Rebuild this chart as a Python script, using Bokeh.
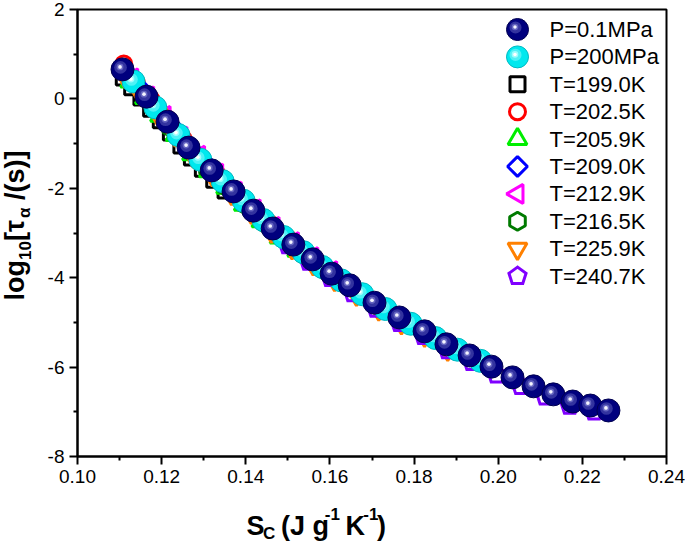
import numpy as np
from bokeh.plotting import figure
from bokeh.layouts import row, column
from bokeh.models import Range1d, FixedTicker, PrintfTickFormatter, ColumnDataSource
from bokeh.transform import dodge
from bokeh.core.properties import value
from bokeh.embed import file_html
from bokeh.resources import INLINE

# ---------------- data ----------------
sc_p01 = [0.1107, 0.1164, 0.1214, 0.1264, 0.1319, 0.1371, 0.1418, 0.1464, 0.1513, 0.1559,
          0.1604, 0.1647, 0.1706, 0.1765, 0.1825, 0.1877, 0.1932, 0.1984, 0.2034, 0.2084,
          0.2131, 0.2177, 0.2219, 0.2262]
lt_p01 = [0.66, 0.05, -0.51, -1.09, -1.60, -2.07, -2.50, -2.90, -3.26, -3.59,
          -3.91, -4.17, -4.56, -4.89, -5.20, -5.49, -5.74, -5.99, -6.23, -6.43,
          -6.61, -6.77, -6.86, -6.97]

sc_p200 = [0.1133, 0.1185, 0.1240, 0.1292, 0.1345, 0.1395, 0.1442, 0.1490, 0.1537, 0.1582,
           0.1627, 0.1677, 0.1732, 0.1792, 0.1851, 0.1903, 0.1958]
lt_p200 = [0.39, -0.19, -0.81, -1.36, -1.84, -2.28, -2.71, -3.09, -3.43, -3.76,
           -4.06, -4.37, -4.70, -5.03, -5.35, -5.61, -5.86]

sc_t1990 = [0.1110, 0.1130, 0.1152, 0.1175, 0.1198, 0.1222, 0.1247, 0.1272, 0.1298, 0.1325, 0.1352]
lt_t1990 = [0.48, 0.26, 0.03, -0.22, -0.48, -0.75, -1.04, -1.31, -1.56, -1.81, -2.05]

sc_t2025 = [0.1110, 0.1140, 0.1175, 0.1212, 0.1250, 0.1290, 0.1330, 0.1372, 0.1415, 0.1458, 0.1500]
lt_t2025 = [0.78, 0.36, -0.02, -0.44, -0.88, -1.29, -1.66, -2.04, -2.43, -2.80, -3.12]

sc_t2059 = [0.1125, 0.1160, 0.1196, 0.1233, 0.1272, 0.1312, 0.1353, 0.1395, 0.1437, 0.1480, 0.1522]
lt_t2059 = [0.39, 0.02, -0.38, -0.81, -1.24, -1.62, -1.99, -2.37, -2.74, -3.10, -3.40]

sc_t2090 = [0.1115, 0.1150, 0.1187, 0.1226, 0.1266, 0.1307, 0.1349, 0.1392, 0.1436, 0.1480, 0.1525]
lt_t2090 = [0.60, 0.22, -0.19, -0.63, -1.09, -1.47, -1.86, -2.25, -2.64, -3.00, -3.33]

sc_t2129 = [0.1130, 0.1168, 0.1207, 0.1247, 0.1289, 0.1332, 0.1376, 0.1421, 0.1466, 0.1512, 0.1558, 0.1603]
lt_t2129 = [0.46, 0.06, -0.38, -0.84, -1.27, -1.67, -2.07, -2.47, -2.86, -3.20, -3.54, -3.85]

sc_t2165 = [0.1180, 0.1222, 0.1265, 0.1309, 0.1354, 0.1400, 0.1446, 0.1493, 0.1540, 0.1587, 0.1634]
lt_t2165 = [-0.18, -0.65, -1.15, -1.56, -1.97, -2.38, -2.79, -3.16, -3.50, -3.84, -4.14]

sc_t2259 = [0.1112, 0.1150, 0.1190, 0.1232, 0.1275, 0.1320, 0.1366, 0.1413, 0.1461, 0.1510,
            0.1560, 0.1611, 0.1663, 0.1716, 0.1770, 0.1825, 0.1880]
lt_t2259 = [0.50, 0.10, -0.34, -0.82, -1.29, -1.71, -2.13, -2.55, -2.97, -3.34,
            -3.70, -4.05, -4.38, -4.71, -5.02, -5.30, -5.61]

sc_t2407 = [0.1500, 0.1550, 0.1602, 0.1655, 0.1710, 0.1766, 0.1823, 0.1880, 0.1938, 0.1996,
            0.2054, 0.2112, 0.2170, 0.2228]
lt_t2407 = [-3.28, -3.65, -4.01, -4.35, -4.70, -5.02, -5.31, -5.63, -5.89, -6.17,
            -6.43, -6.66, -6.87, -7.00]

legend_labels = ["P=0.1MPa", "P=200MPa", "T=199.0K", "T=202.5K", "T=205.9K",
                 "T=209.0K", "T=212.9K", "T=216.5K", "T=225.9K", "T=240.7K"]

x_ticks = [0.10, 0.12, 0.14, 0.16, 0.18, 0.20, 0.22, 0.24]
x_minor = [0.11, 0.13, 0.15, 0.17, 0.19, 0.21, 0.23]
y_ticks = [-8, -6, -4, -2, 0, 2]
y_minor = [-7, -5, -3, -1, 1]

# ---------------- layout constants (page pixels) ----------------
FONT = "Liberation Sans"
X0, X1 = 0.10, 0.24
Y0, Y1 = -8.0, 2.0
PW, PH = 685, 548
LW_COL = 40
BH = 42
W, H = PW - LW_COL, PH - BH
BL, BR, BT, BB = 37, 19, 9, 50
FW, FH = W - BL - BR, H - BT - BB
FL, FT = LW_COL + BL, BT

p = figure(width=W, height=H, x_range=Range1d(X0, X1), y_range=Range1d(Y0, Y1),
           output_backend="svg", toolbar_location=None,
           min_border_left=BL, min_border_right=BR, min_border_top=BT, min_border_bottom=BB,
           background_fill_color="white", border_fill_color="white")
p.extra_x_ranges = {"pg": Range1d(FL, FL + FW)}
p.extra_y_ranges = {"pg": Range1d(FT + FH, FT)}

p.xgrid.visible = False
p.ygrid.visible = False
p.outline_line_color = "black"
p.outline_line_width = 2
p.outline_line_alpha = 1

p.xaxis.ticker = FixedTicker(ticks=x_ticks, minor_ticks=x_minor)
p.yaxis.ticker = FixedTicker(ticks=y_ticks, minor_ticks=y_minor)
p.xaxis.formatter = PrintfTickFormatter(format="%.2f")
p.yaxis.formatter = PrintfTickFormatter(format="%d")
for ax in (p.xaxis[0], p.yaxis[0]):
    ax.axis_line_width = 2
    ax.axis_line_color = "black"
    ax.major_tick_line_width = 2
    ax.minor_tick_line_width = 2
    ax.major_tick_line_color = "black"
    ax.minor_tick_line_color = "black"
    ax.major_tick_out = 8
    ax.major_tick_in = 0
    ax.minor_tick_out = 4
    ax.minor_tick_in = 0
    ax.major_label_text_font = FONT
    ax.major_label_text_font_size = "19px"
    ax.major_label_text_color = "black"
    ax.major_label_standoff = 5
    ax.axis_label = None

PXX = (X1 - X0) / FW
PXY = (Y1 - Y0) / FH
DX, DY = -2.5 * PXX, 2.5 * PXY


def sphere(xs, ys, base, edge, mid, hi, size, xr="default", yr="default", dx=DX, dy=DY):
    src = ColumnDataSource(dict(x=list(xs), y=list(ys)))
    kw = dict(source=src, x_range_name=xr, y_range_name=yr)
    p.scatter("x", "y", size=size, fill_color=base, line_color=edge, line_width=1, **kw)
    p.scatter(dodge("x", dx * 0.8), dodge("y", dy * 0.8), size=size * 0.55, fill_color=mid,
              fill_alpha=0.45, line_color=None, **kw)
    p.scatter(dodge("x", dx), dodge("y", dy), size=size * 0.3, fill_color=mid,
              fill_alpha=0.8, line_color=None, **kw)
    p.scatter(dodge("x", dx), dodge("y", dy), size=size * 0.16, fill_color=hi,
              line_color=None, **kw)


ANG5 = np.pi / 2 + 2 * np.pi * np.arange(5) / 5
LW = 3


def pentagons(xs, ys, r, ux, uy, **kw):
    xsv = [list(x + r * ux * np.cos(ANG5)) for x in xs]
    ysv = [list(y + r * uy * np.sin(ANG5)) for y in ys]
    p.patches(xsv, ysv, fill_color=None, line_color="#8000ff", line_width=LW,
              line_join="miter", **kw)


open_series = [
    (sc_t1990, lt_t1990, "square", "#000000", 0.0, 15),
    (sc_t2025, lt_t2025, "circle", "#ff0000", 0.0, 16),
    (sc_t2059, lt_t2059, "triangle", "#00ee00", 0.0, 19),
    (sc_t2090, lt_t2090, "square", "#0000ff", np.pi / 4, 14),
    (sc_t2129, lt_t2129, "triangle", "#ff00ff", np.pi / 2, 19),
    (sc_t2165, lt_t2165, "hex", "#007a00", np.pi / 2, 18),
    (sc_t2259, lt_t2259, "inverted_triangle", "#ff8000", 0.0, 19),
]
PENT_R = 9.0
for xs, ys, mk, col, ang, sz in open_series:
    p.scatter(xs, ys, marker=mk, size=sz, angle=ang, fill_color=None,
              line_color=col, line_width=LW)
pentagons(sc_t2407, lt_t2407, PENT_R, PXX, PXY)

sphere(sc_p200, lt_p200, "#00e8ee", "#00b8c0", "#b0ffff", "#ffffff", 23)
sphere(sc_p01, lt_p01, "#00007e", "#000050", "#7070c8", "#f4f4ff", 23)

# ---------------- legend (page-pixel coordinates inside the frame) ----------------
leg_y = 29 + 27.4 * np.arange(len(legend_labels))
GX, TX = 517, 549
sphere([GX], [leg_y[0]], "#00007e", "#000050", "#7070c8", "#f4f4ff", 22, "pg", "pg", -2.5, -2.5)
sphere([GX], [leg_y[1]], "#00e8ee", "#00b8c0", "#b0ffff", "#ffffff", 22, "pg", "pg", -2.5, -2.5)
for i, (xs, ys, mk, col, ang, sz) in enumerate(open_series):
    p.scatter([GX], [leg_y[i + 2]], marker=mk, size=sz, angle=ang, fill_color=None,
              line_color=col, line_width=LW, x_range_name="pg", y_range_name="pg")
pentagons([GX], [leg_y[9]], PENT_R, 1.0, -1.0, x_range_name="pg", y_range_name="pg")
p.text(x=[TX] * len(legend_labels), y=list(leg_y), text=legend_labels,
       text_font=value(FONT), text_font_size=value("22px"), text_color="black",
       text_baseline="middle", text_align="left", x_range_name="pg", y_range_name="pg")


# ---------------- axis-title strips ----------------
def strip(w, h, x_page0, y_page0):
    f = figure(width=w, height=h, x_range=Range1d(x_page0, x_page0 + w),
               y_range=Range1d(y_page0 + h, y_page0), output_backend="svg",
               toolbar_location=None, x_axis_location=None, y_axis_location=None,
               min_border=0, title=None, background_fill_color="white",
               border_fill_color="white", outline_line_color=None)
    f.xgrid.visible = False
    f.ygrid.visible = False
    return f


MAIN, SUB = 27, 17


def compose(pieces, start, base, vertical):
    xs, ys, txt, sizes = [], [], [], []
    pos = start
    sgn = -1 if vertical else 1
    for t, sz, off, gap, em in pieces:
        pos += sgn * gap * MAIN
        if vertical:
            xs.append(base + off); ys.append(pos)
        else:
            xs.append(pos); ys.append(base + off)
        txt.append(t); sizes.append(f"{sz}px")
        pos += sgn * em * sz
    return ColumnDataSource(dict(x=xs, y=ys, text=txt, size=sizes))


# x title: S_C (J g^-1 K^-1)
xt = [("S", MAIN, 0, 0, 0.667), ("C", SUB, 8, 0, 0.722), ("(J g", MAIN, 0, 0.278, 1.778),
      ("-1", SUB, -12, 0, 0.889), ("K", MAIN, 0, 0.278, 0.722), ("-1", SUB, -12, 0, 0.889),
      (")", MAIN, 0, 0, 0.333)]
fx = strip(W, BH, LW_COL, H)
fx.text("x", "y", text="text", source=compose(xt, 225.0, 525.0, False),
        text_font=value(FONT), text_font_size="size", text_font_style="bold",
        text_color="black", text_align="left", text_baseline="alphabetic")

# y title: log10[tau_alpha /(s)]
yt = [("log", MAIN, 0, 0, 1.5), ("10", SUB, 10, 0, 1.112), ("[", MAIN, 0, 0, 0.333),
      ("τ", MAIN, 0, 0, 0.52), ("α", SUB, 10, 0, 0.62), ("/(s)]", MAIN, 0, 0.278, 1.833)]
fy = strip(LW_COL, PH, 0, 0)
fy.text("x", "y", text="text", source=compose(yt, 300.0, 14.0, True),
        text_font=value(FONT), text_font_size="size", text_font_style="bold",
        text_color="black", text_align="left", text_baseline="alphabetic", angle=np.pi / 2)

layout = row(fy, column(p, fx, spacing=0), spacing=0)
open("out.html", "w").write(file_html(layout, INLINE))
